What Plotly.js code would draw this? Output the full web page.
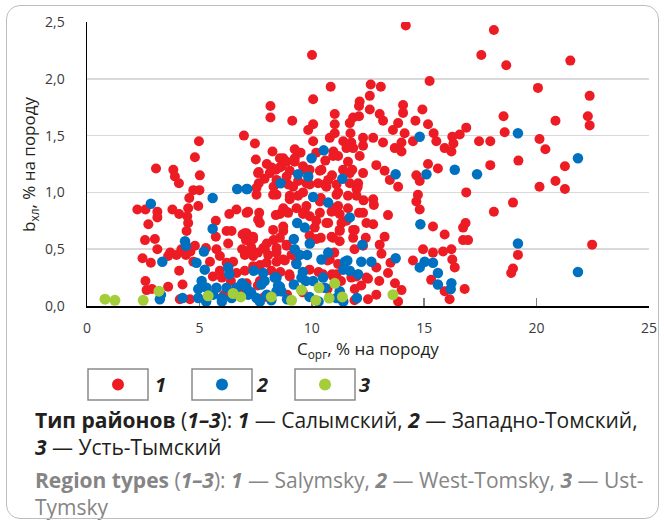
<!DOCTYPE html>
<html><head><meta charset="utf-8">
<script src="https://cdn.plot.ly/plotly-3.0.1.min.js"></script>
<style>body{margin:0;background:#fff}#wrap{position:relative;width:664px;height:522px}
#frame{position:absolute;left:6px;top:5px;width:651px;height:512px;border:1.5px solid #bdbdbd;border-radius:14px;pointer-events:none}</style>
</head><body>
<div id="wrap"><div id="chart" style="width:664px;height:522px"></div><div id="frame"></div></div>
<script>
// ---- data ----
const xTickVals = [0, 5, 10, 15, 20, 25];
const yTickVals = [0, 0.5, 1, 1.5, 2, 2.5];
const yTickText = ['0,0', '0,5', '1,0', '1,5', '2,0', '2,5'];
const seriesNames = ['1', '2', '3'];

const redPts = [
[8.16,1.76],[8.16,1.66],[6.98,1.50],[4.98,1.45],[7.47,1.43],[4.8,1.31],[7.51,1.29],[8.25,1.36],[3.07,1.21],[3.84,1.20],
[3.91,1.14],[5.02,1.15],[7.64,1.18],[4.09,1.08],[7.64,1.08],[4.73,1.02],[5.0,1.02],[7.54,0.98],[8.28,0.98],[4.55,0.95],
[2.24,0.85],[2.6,0.85],[3.13,0.83],[3.13,0.78],[3.8,0.85],[4.1,0.81],[4.5,0.86],[4.95,0.88],[4.46,0.79],[6.33,0.81],
[6.65,0.85],[7.17,0.83],[7.66,0.82],[7.69,0.73],[2.73,0.72],[4.5,0.73],[5.73,0.75],[4.43,0.66],[6.21,0.66],[6.43,0.66],
[8.28,0.67],[5.73,0.61],[6.92,0.63],[7.1,0.64],[7.39,0.61],[2.58,0.58],[3.02,0.59],[6.28,0.55],[7.07,0.58],[3.13,0.50],
[4.8,0.53],[5.29,0.51],[5.76,0.50],[2.47,0.42],[2.84,0.38],[3.61,0.44],[3.98,0.45],[4.4,0.45],[4.73,0.39],[5.47,0.39],
[5.91,0.44],[6.21,0.38],[6.5,0.39],[7.02,0.45],[7.39,0.44],[7.84,0.51],[8.06,0.45],[8.43,0.39],[4.1,0.31],[5.91,0.31],
[6.65,0.29],[7.02,0.31],[8.2,0.31],[2.6,0.22],[3.61,0.17],[4.25,0.19],[2.65,0.14],[2.89,0.15],[4.13,0.06],[4.58,0.06],
[6.9,0.5],[7.3,0.52],[7.6,0.47],[8.0,0.55],[7.7,0.36],[8.3,0.58],[8.4,0.8],
[7.9,1.12],[8.3,1.05],[8.0,1.25],[8.4,1.2],[6.0,0.25],[6.4,0.22],[7.1,0.2],[7.6,0.18],[5.6,0.26],[6.9,0.12],
[7.9,0.08],[6.1,0.1],[4.2,0.5],[4.6,0.48],[3.7,0.47],
[14.18,2.47],[10.01,2.21],[15.24,1.98],[10.84,1.93],[12.62,1.95],[13.07,1.93],[10.06,1.82],[12.58,1.85],[12.13,1.80],[12.1,1.76],
[12.58,1.73],[14.06,1.77],[14.06,1.70],[14.92,1.73],[9.13,1.63],[11.02,1.69],[11.84,1.66],[12.1,1.67],[11.69,1.61],[13.02,1.69],
[13.17,1.63],[13.84,1.61],[14.61,1.63],[15.17,1.60],[11.02,1.60],[10.06,1.60],[9.84,1.55],[11.02,1.52],[11.72,1.52],[13.61,1.55],
[14.13,1.52],[14.5,1.45],[15.42,1.52],[15.54,1.45],[16.25,1.49],[16.58,1.51],[16.87,1.57],[10.8,1.48],[10.06,1.45],[12.28,1.48],
[11.76,1.44],[12.73,1.48],[13.17,1.44],[13.99,1.44],[11.84,1.39],[11.54,1.39],[12.28,1.41],[13.69,1.39],[13.99,1.36],[15.91,1.39],
[16.21,1.36],[9.24,1.38],[10.96,1.36],[11.17,1.32],[12.13,1.32],[8.58,1.30],[8.88,1.27],[9.24,1.27],[9.61,1.23],[11.61,1.27],
[12.87,1.24],[13.24,1.19],[15.17,1.25],[15.61,1.21],[8.21,1.22],[8.58,1.22],[9.02,1.19],[10.36,1.19],[11.39,1.20],[12.28,1.17],
[14.65,1.15],[8.95,1.07],[9.39,1.10],[9.91,1.07],[10.28,1.08],[10.58,1.07],[11.69,1.08],[12.04,1.05],[13.47,1.11],[13.84,1.05],
[14.8,1.10],[14.72,0.98],[14.65,0.92],[8.43,0.98],[9.02,0.97],[9.61,1.0],[11.1,0.98],[11.61,0.97],[11.99,1.03],[12.73,0.94],
[12.76,0.89],[8.73,0.86],[9.32,0.86],[9.76,0.88],[11.17,0.88],[11.61,0.86],[14.8,0.85],[16.87,1.0],[8.58,0.81],[8.95,0.82],
[9.61,0.81],[10.88,0.83],[13.39,0.80],[10.65,0.73],[11.32,0.73],[11.54,0.75],[12.43,0.73],[12.73,0.72],[15.39,0.70],[8.73,0.66],
[11.24,0.66],[11.91,0.67],[15.91,0.63],[10.88,0.61],[11.24,0.57],[13.24,0.61],[13.02,0.54],[8.43,0.51],[8.88,0.54],[14.95,0.50],
[15.39,0.47],[16.25,0.41],[16.36,0.34],[15.84,0.48],[16.21,0.50],[14.5,0.40],[16.13,0.06],[15.91,0.13],[15.31,0.23],[16.8,0.15],
[13.99,0.14],[13.84,0.04],[12.87,0.10],[11.91,0.15],[13.39,0.29],[12.87,0.34],[13.1,0.46],[13.5,0.38],[12.43,0.25],[11.76,0.25],
[11.1,0.28],[10.5,0.28],
[9.5,1.35],[9.9,1.2],[10.6,1.28],[10.9,1.15],[11.4,1.45],[10.4,0.95],[10.2,0.75],[9.9,0.62],[10.4,0.6],[10.7,0.4],
[11.0,0.47],[11.9,0.5],[12.4,0.6],[12.1,0.82],[12.3,0.93],[11.8,1.2],[9.1,0.45],[8.8,0.4],[9.3,0.38],[8.6,0.3],
[9.0,0.28],[9.9,0.32],[10.3,0.3],[10.9,0.28],[11.3,0.22],[12.5,0.24],[12.2,0.18],[13.0,0.22],[10.7,0.15],[9.6,0.12],
[8.9,0.1],[12.5,0.06],[13.7,0.2],[11.9,0.05],
[8.73,1.30],[9.24,1.30],[10.2,1.35],[10.95,1.32],[7.61,1.17],[8.13,1.17],[8.65,1.23],[8.88,1.14],[9.69,1.20],[10.43,1.20],
[10.73,1.11],[11.69,1.17],[8.43,1.11],[9.17,1.05],[9.76,1.08],[10.65,1.05],[11.1,1.07],[12.06,1.08],[7.54,1.04],[9.02,0.94],
[9.39,0.97],[10.36,0.92],[11.17,1.0],[11.99,0.97],[8.88,0.83],[9.69,0.83],[9.91,0.79],[10.36,0.82],[10.95,0.86],[11.24,0.81],
[12.28,0.82],[7.1,0.82],[7.61,0.76],[8.73,0.70],[10.13,0.69],[10.73,0.73],[11.24,0.67],[11.84,0.67],[7.02,0.64],[7.39,0.59],
[8.58,0.60],[10.2,0.59],[10.95,0.60],[11.84,0.60],[12.28,0.53],[7.1,0.47],[7.91,0.50],[8.43,0.47],[8.88,0.53],[8.73,0.41],
[7.99,0.38],[7.39,0.35],[10.8,0.41],[11.17,0.37],[7.69,0.22],[9.02,0.26],[11.99,0.26],[10.95,0.26],
[18.1,2.43],[17.54,2.21],[18.65,2.12],[21.5,2.16],[20.06,1.92],[22.36,1.85],[18.53,1.67],[20.84,1.63],[22.28,1.67],[22.36,1.59],
[18.58,1.53],[17.44,1.45],[17.94,1.45],[20.13,1.47],[20.39,1.38],[16.3,1.43],[19.19,1.28],[17.94,1.24],[21.26,1.23],[20.84,1.10],
[20.13,1.05],[21.26,1.03],[18.95,0.91],[18.1,0.83],[16.84,0.73],[16.73,0.69],[16.73,0.58],[16.95,0.58],[22.47,0.54],[19.17,0.45],
[18.95,0.33],[18.87,0.29]
];

const bluePts = [
[6.68,1.03],[7.13,1.03],[5.59,0.95],[2.84,0.90],[5.59,0.68],[4.36,0.57],[4.4,0.53],[3.35,0.39],[5.2,0.48],[4.87,0.38],
[5.24,0.32],[6.28,0.34],[6.33,0.28],[7.42,0.31],[7.84,0.29],[3.24,0.06],[3.29,0.10],[4.25,0.07],[4.95,0.15],[4.95,0.07],
[5.32,0.16],[5.61,0.10],[5.76,0.16],[5.99,0.07],[6.21,0.16],[6.43,0.07],[6.65,0.16],[7.1,0.16],[7.17,0.10],[7.54,0.07],
[7.75,0.19],[7.9,0.22],[8.35,0.25],[8.43,0.13],[7.69,0.04],[14.8,1.49],[10.53,1.37],[9.99,1.30],[9.39,1.16],[9.84,1.14],
[13.73,1.16],[15.1,1.16],[8.61,1.08],[11.36,1.12],[10.06,0.96],[10.73,0.91],[11.69,0.78],[9.35,0.73],[9.69,0.69],[14.83,0.72],
[9.2,0.59],[9.91,0.55],[12.25,0.54],[9.47,0.45],[9.79,0.45],[10.43,0.41],[10.73,0.47],[11.47,0.39],[11.58,0.40],[12.2,0.39],
[12.65,0.39],[13.73,0.42],[15.02,0.39],[15.39,0.38],[14.8,0.34],[15.61,0.29],[15.61,0.19],[16.21,0.20],[16.18,0.15],[12.01,0.07],
[8.43,0.25],[8.65,0.13],[9.54,0.25],[10.06,0.22],[10.5,0.25],[10.58,0.16],[11.24,0.13],[11.4,0.04],[11.69,0.31],[12.06,0.28],
[9.2,0.19],[9.73,0.22],[9.6,0.3],[11.1,0.07],[19.17,1.52],[21.84,1.30],[16.36,1.20],[17.35,1.16],[19.17,0.55],[21.84,0.30],
[5.1,0.22],[6.0,0.04],[6.9,0.2],[7.3,0.12],[8.0,0.1],[8.2,0.05],[5.3,0.04],[8.5,0.18],[8.9,0.06],[9.9,0.08],[10.3,0.04],
[9.24,0.50],[11.4,0.32],[9.32,0.37],[8.58,0.17],[7.1,1.03]
];

const greenPts = [
[0.8,0.06],[1.24,0.05],[2.5,0.05],[3.2,0.13],[5.39,0.09],[6.5,0.11],[6.84,0.08],[8.2,0.08],[9.1,0.05],[9.54,0.14],
[10.18,0.05],[10.32,0.16],[10.77,0.07],[11.02,0.20],[11.36,0.08],[13.61,0.10]
];

const colors = ['#ED1C24', '#0070C0', '#A3CD39'];

// ---- layout geometry (pixels -> paper) ----
const W = 664, H = 522;
const M = {l: 87, r: 15, t: 22, b: 216};
const PW = W - M.l - M.r, PH = H - M.t - M.b;
const px = v => (v - M.l) / PW;
const py = v => (H - M.b - v) / PH;

function trace(pts, color, size) {
  return {type: 'scatter', mode: 'markers', x: pts.map(p => p[0]), y: pts.map(p => p[1]),
    marker: {color: color, size: size, line: {width: 0}}, hoverinfo: 'skip', cliponaxis: true};
}

const data = [trace(redPts, colors[0], 10), trace(bluePts, colors[1], 10.5), trace(greenPts, colors[2], 11)];

const font = '"Open Sans", sans-serif';
const shapes = [];
const annotations = [];
const boxes = [[88, 148, 118], [192, 252, 222], [295, 355, 325]];
const numX = [160, 262, 364];
boxes.forEach((b, i) => {
  shapes.push({type: 'rect', xref: 'paper', yref: 'paper', x0: px(b[0]), x1: px(b[1]), y0: py(400), y1: py(369),
    line: {color: '#8a8a8a', width: 1.5}, fillcolor: 'rgba(0,0,0,0)'});
  shapes.push({type: 'circle', xref: 'paper', yref: 'paper', x0: px(b[2] - 6), x1: px(b[2] + 6), y0: py(390.5), y1: py(378.5),
    line: {width: 0}, fillcolor: colors[i]});
  annotations.push({xref: 'paper', yref: 'paper', x: px(numX[i]), y: py(384), xanchor: 'center', yanchor: 'middle',
    text: '<b><i>' + seriesNames[i] + '</i></b>', showarrow: false, font: {family: font, size: 20, color: '#231f20'}});
});

const lines = [
  {t: '<b>Тип районов</b> (<b><i>1–3</i></b>): <b><i>1</i></b> — Салымский, <b><i>2</i></b> — Западно-Томский,', y: 419.5, c: '#231f20', s: 21},
  {t: '<b><i>3</i></b> — Усть-Тымский', y: 446.5, c: '#231f20', s: 21},
  {t: '<b>Region types</b> (<b><i>1–3</i></b>): <b><i>1</i></b> — Salymsky, <b><i>2</i></b> — West-Tomsky, <b><i>3</i></b> — Ust-', y: 480, c: '#858585', s: 21},
  {t: 'Tymsky', y: 507, c: '#858585', s: 21}
];
lines.forEach(l => annotations.push({xref: 'paper', yref: 'paper', x: px(33), y: py(l.y), xanchor: 'left', yanchor: 'middle',
  text: l.t, showarrow: false, align: 'left', font: {family: font, size: l.s, color: l.c}}));

annotations.push({xref: 'paper', yref: 'paper', x: 0.5, y: py(349), xanchor: 'center', yanchor: 'middle',
  text: 'C<sub>орг</sub>, % на породу', showarrow: false, font: {family: font, size: 17, color: '#231f20'}});
annotations.push({xref: 'paper', yref: 'paper', x: px(29), y: 0.5, xanchor: 'center', yanchor: 'middle', textangle: -90,
  text: 'b<sub>хл</sub>, % на породу', showarrow: false, font: {family: font, size: 17, color: '#231f20'}});

const layout = {
  width: W, height: H, margin: M, showlegend: false,
  paper_bgcolor: 'rgba(0,0,0,0)', plot_bgcolor: '#fff',
  font: {family: font, color: '#3a3a3a'},
  xaxis: {range: [0, 25], tickvals: xTickVals, showgrid: false, zeroline: false, showline: true, linecolor: '#000', linewidth: 1.5,
    ticks: 'inside', ticklen: 8, tickwidth: 1.5, tickcolor: '#808080', tickfont: {size: 14, color: '#3a3a3a'},
    ticklabelstandoff: 9, layer: 'below traces', fixedrange: true},
  yaxis: {range: [0, 2.5], tickvals: yTickVals, ticktext: yTickText, showgrid: true, gridcolor: '#d9d9d9', gridwidth: 1.5,
    zeroline: false, showline: true, linecolor: '#000', linewidth: 1.5, ticks: '', tickfont: {size: 14, color: '#3a3a3a'},
    ticklabelstandoff: 18, layer: 'below traces', fixedrange: true},
  shapes: shapes, annotations: annotations
};

Plotly.newPlot('chart', data, layout, {staticPlot: true, displayModeBar: false});
</script>
</body></html>
